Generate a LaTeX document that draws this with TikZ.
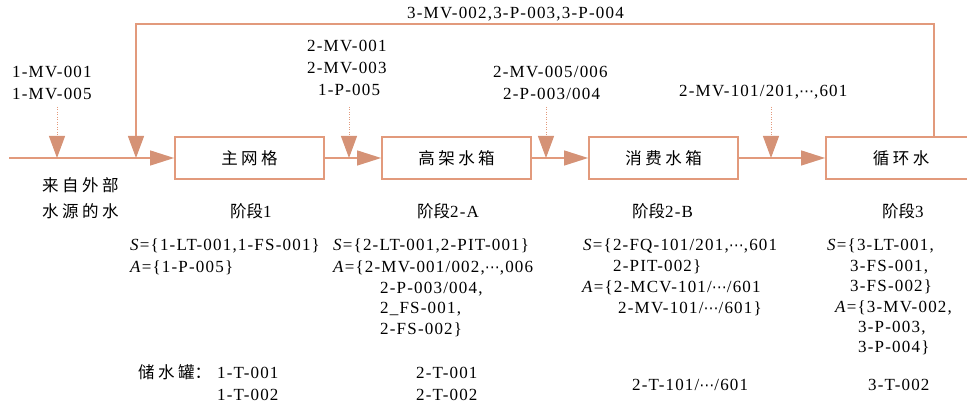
\documentclass[tikz,border=0pt]{standalone}
\usepackage{fontspec}
\setmainfont{Liberation Serif}[LetterSpace=7]
\newfontfamily\cjk{Noto Sans CJK SC}
\newfontfamily\djv{DejaVu Sans}
\usetikzlibrary{arrows.meta}
\definecolor{ln}{RGB}{226,154,124}
\definecolor{tipc}{RGB}{213,146,118}
\newcommand\gp{\hspace{3.5pt}}
\newcommand\dts{{\djv\fontsize{15}{17}\selectfont ⋯}}
\begin{document}
\begin{tikzpicture}[x=1pt,y=-1pt,
  box/.style={draw=ln, line width=1.8pt, minimum height=42pt, inner sep=0pt,
    font=\fontsize{16.5}{18}\selectfont\cjk},
  txt/.style={anchor=base west, inner sep=0pt, font=\fontsize{17}{20}\selectfont},
  flow/.style={draw=ln, line width=1.3pt, -{Triangle[length=24pt,width=15pt,color=tipc]}},
  fback/.style={draw=ln, line width=1.3pt, -{Triangle[length=22pt,width=16pt,color=tipc]}},
  ctrl/.style={draw=ln, line width=1pt, dash pattern=on 1pt off 1.5pt, -{Triangle[length=22pt,width=16pt,color=tipc]}}
]
\useasboundingbox (0,0) rectangle (967,403);
% boxes
\node[box, minimum width=149pt] (b1) at (249.5,158) {主\gp 网\gp 格};
\node[box, minimum width=149pt] (b2) at (456.5,158) {高\gp 架\gp 水\gp 箱};
\node[box, minimum width=149pt] (b3) at (663.5,158) {消\gp 费\gp 水\gp 箱};
\node[box, minimum width=150pt] (b4) at (901,158) {循\gp 环\gp 水};
% main flow
\coordinate (src) at (9,158);
\draw[flow] (src) -- (b1.west);
\draw[flow] (b1.east) -- (b2.west);
\draw[flow] (b2.east) -- (b3.west);
\draw[flow] (b3.east) -- (b4.west);
% feedback
\coordinate (fbx) at (934,24);
\coordinate (fbl) at (136,24);
\coordinate (fbe) at (136,158);
\draw[fback] (b4.north -| fbx) -- (fbx) -- (fbl) -- (fbe);
\node[txt] (fblab) at (407,19) {3-MV-002,3-P-003,3-P-004};
% control arrows
\coordinate (d1t) at (57,107);  \coordinate (d1b) at (57,158);
\coordinate (d2t) at (349,107); \coordinate (d2b) at (349,158);
\coordinate (d3t) at (546,107); \coordinate (d3b) at (546,158);
\coordinate (d4t) at (771,107); \coordinate (d4b) at (771,158);
\draw[ctrl] (d1t) -- (d1b);
\draw[ctrl] (d2t) -- (d2b);
\draw[ctrl] (d3t) -- (d3b);
\draw[ctrl] (d4t) -- (d4b);
% control labels
\node[txt] (l1a) at (12,78) {1-MV-001};
\node[txt] (l1b) at (12,100) {1-MV-005};
\node[txt] (l2a) at (307,52) {2-MV-001};
\node[txt] (l2b) at (307,74) {2-MV-003};
\node[txt] (l2c) at (318,96) {1-P-005};
\node[txt] (l3a) at (493,78) {2-MV-005/006};
\node[txt] (l3b) at (503,100) {2-P-003/004};
\node[txt] (l4a) at (679,97) {2-MV-101/201,\dts,601};
% source text
\node[txt, font=\fontsize{16.5}{18}\selectfont\cjk] (srca) at (42,192) {来\gp 自\gp 外\gp 部};
\node[txt, font=\fontsize{16.5}{18}\selectfont\cjk] (srcb) at (42,218) {水\gp 源\gp 的\gp 水};
% stage titles
\node[txt] (s1) at (230,218) {{\cjk\fontsize{16.5}{18}\selectfont 阶段}1};
\node[txt] (s2) at (417,218) {{\cjk\fontsize{16.5}{18}\selectfont 阶段}2-A};
\node[txt] (s3) at (632,218) {{\cjk\fontsize{16.5}{18}\selectfont 阶段}2-B};
\node[txt] (s4) at (882,218) {{\cjk\fontsize{16.5}{18}\selectfont 阶段}3};
% stage 1
\node[txt] (p1s) at (130,251) {\textit{S}=\{1-LT-001,1-FS-001\}};
\node[txt] (p1a) at (130,273) {\textit{A}=\{1-P-005\}};
\node[txt] (t1l) at (138,378) {{\cjk\fontsize{16.5}{18}\selectfont 储\gp 水\gp 罐：}};
\node[txt] (t1a) at (217,378) {1-T-001};
\node[txt] (t1b) at (217,400) {1-T-002};
% stage 2-A
\node[txt] (p2s) at (333,251) {\textit{S}=\{2-LT-001,2-PIT-001\}};
\node[txt] (p2a) at (333,273) {\textit{A}=\{2-MV-001/002,\dts,006};
\node[txt] (p2b) at (380,294) {2-P-003/004,};
\node[txt] (p2c) at (380,314) {2\_FS-001,};
\node[txt] (p2d) at (380,335) {2-FS-002\}};
\node[txt] (t2a) at (416,378) {2-T-001};
\node[txt] (t2b) at (416,400) {2-T-002};
% stage 2-B
\node[txt] (p3s) at (583,251) {\textit{S}=\{2-FQ-101/201,\dts,601};
\node[txt] (p3b) at (613,272) {2-PIT-002\}};
\node[txt] (p3a) at (582,293) {\textit{A}=\{2-MCV-101/\dts/601};
\node[txt] (p3c) at (618,314) {2-MV-101/\dts/601\}};
\node[txt] (t3a) at (632,391) {2-T-101/\dts/601};
% stage 3
\node[txt] (p4s) at (827,251) {\textit{S}=\{3-LT-001,};
\node[txt] (p4b) at (850,272) {3-FS-001,};
\node[txt] (p4c) at (850,292) {3-FS-002\}};
\node[txt] (p4a) at (835,313) {\textit{A}=\{3-MV-002,};
\node[txt] (p4d) at (858,333) {3-P-003,};
\node[txt] (p4e) at (858,353) {3-P-004\}};
\node[txt] (t4a) at (868,391) {3-T-002};
\end{tikzpicture}
\end{document}
